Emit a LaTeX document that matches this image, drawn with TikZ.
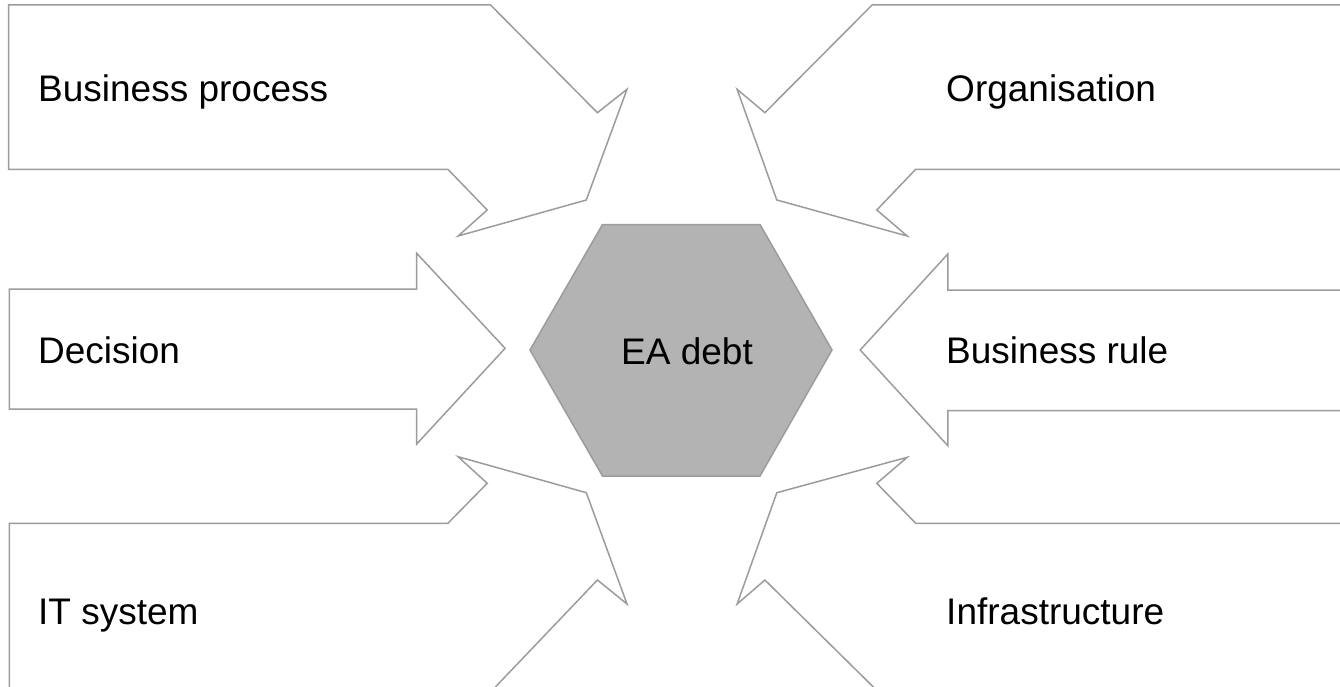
\documentclass[tikz,border=0pt]{standalone}
\usepackage{fontspec}
\setmainfont{Liberation Sans}
\definecolor{linegray}{HTML}{9C9C9C}
\definecolor{hexfill}{HTML}{B3B3B3}
\tikzset{
  arrowshape/.style={draw=linegray, line width=1.5pt, line join=miter, fill=white},
  hexshape/.style={draw=linegray, line width=1.5pt, line join=miter, fill=hexfill},
  lbl/.style={font=\fontsize{37}{44}\selectfont, text=black, anchor=base west, inner sep=0pt},
  centerlbl/.style={font=\fontsize{37}{44}\selectfont, text=black, anchor=base, inner sep=0pt}
}
\begin{document}
\begin{tikzpicture}[x=1pt,y=-1pt]
\useasboundingbox (0,0) rectangle (1340,687);
\fill[white] (0,0) rectangle (1340,687);
\clip (0,0) rectangle (1340,687);
% top-left
\draw[arrowshape] (8.5,5) -- (490.6,5) -- (597.4,112.7) -- (627,89.3) -- (586.3,200) -- (458.1,236) -- (487.2,210) -- (447.9,169.3) -- (8.5,169.3) -- cycle;
% middle-left
\draw[arrowshape] (9.4,289) -- (416.7,289) -- (416.7,253.3) -- (505.1,348.3) -- (416.7,444) -- (416.7,409) -- (9.4,409) -- cycle;
% bottom-left
\draw[arrowshape] (9.4,700) -- (9.4,523.3) -- (447.9,523.3) -- (487.2,483.3) -- (458.1,456.7) -- (586.3,492.7) -- (627,604) -- (597.4,580) -- (483,700) -- cycle;
% top-right
\draw[arrowshape] (1360,5) -- (872.1,5) -- (764.9,112.7) -- (737.1,89.3) -- (776.8,200) -- (907.2,236) -- (876.8,210) -- (915.7,169.3) -- (1360,169.3) -- cycle;
% middle-right
\draw[arrowshape] (1360,290) -- (947.8,290) -- (947.8,254) -- (860.2,350) -- (947.8,445.7) -- (947.8,410.7) -- (1360,410.7) -- cycle;
% bottom-right
\draw[arrowshape] (1360,700) -- (1360,523.3) -- (915.7,523.3) -- (876.8,483.3) -- (907.2,457.3) -- (776.8,492.7) -- (737.1,604) -- (764.9,580) -- (886.5,700) -- cycle;
% hexagon
\draw[hexshape] (530,350) -- (602.5,224.5) -- (760,224.5) -- (832,350) -- (760,476) -- (602.5,476) -- cycle;
% labels
\node[centerlbl] (ea) at (687,364) {EA debt};
\node[lbl] (bp) at (38,102) {Business process};
\node[lbl] (dec) at (38,363) {Decision};
\node[lbl] (its) at (38,624) {IT system};
\node[lbl] (org) at (946,102) {Organisation};
\node[lbl] (br) at (946,363) {Business rule};
\node[lbl] (inf) at (946,624) {Infrastructure};
\end{tikzpicture}
\end{document}
